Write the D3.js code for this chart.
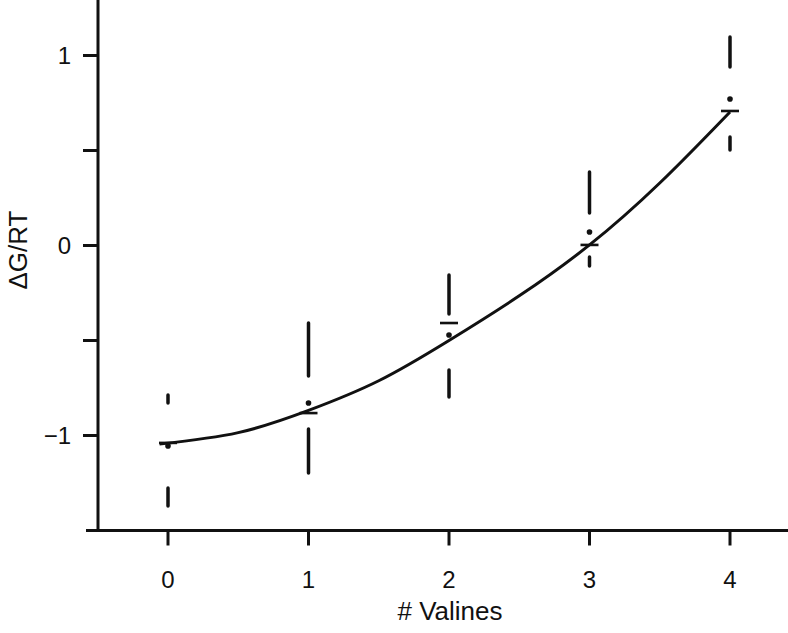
<!DOCTYPE html>
<html>
<head>
<meta charset="utf-8">
<script src="https://cdn.jsdelivr.net/npm/d3@7"></script>
<style>
  body { margin: 0; background: #fff; }
  svg text { font-family: "Liberation Sans", Arial, Helvetica, sans-serif; fill: #111; }
</style>
</head>
<body>
<svg id="chart" width="788" height="633"></svg>
<script>
// values
var valines   = [0, 1, 2, 3, 4];
var upperHi   = [-0.787, -0.408, -0.155, 0.387, 1.097];
var upperLo   = [-0.829, -0.687, -0.361, 0.171, 0.939];
var lowerHi   = [-1.276, -0.966, -0.655, -0.061, 0.571];
var lowerLo   = [-1.371, -1.197, -0.797, -0.108, 0.503];
var medians   = [-1.055, -0.829, -0.471, 0.071, 0.771];
var fitted    = [-1.039, -0.882, -0.408, 0.003, 0.708];
var curveX    = [-0.06, 0.5, 1, 1.5, 2, 2.5, 3, 3.5, 4];
var curveY    = [-1.045, -0.985, -0.868, -0.712, -0.500, -0.265, 0.003, 0.329, 0.703];
var xTicks    = [0, 1, 2, 3, 4];
var yTicks    = [-1, -0.5, 0, 0.5, 1];
var yLabels   = {"-1": "\u22121", "0": "0", "1": "1"};

var svg = d3.select("#chart");
var ink = "#111";

var x = d3.scaleLinear().domain([0, 4]).range([168, 730]);
var y = d3.scaleLinear().domain([-1.5, 1]).range([530.5, 55.5]);

// axes
var xAxis = svg.append("g").attr("transform", "translate(0,530.5)");
xAxis.append("line").attr("x1", 86).attr("x2", 788).attr("stroke", ink).attr("stroke-width", 3);
xAxis.selectAll(".xt").data(xTicks).enter().append("line")
    .attr("class", "xt")
    .attr("x1", function(d) { return x(d); }).attr("x2", function(d) { return x(d); })
    .attr("y1", 0).attr("y2", 15)
    .attr("stroke", ink).attr("stroke-width", 3);
xAxis.selectAll(".xl").data(xTicks).enter().append("text")
    .attr("class", "xl")
    .attr("x", function(d) { return x(d); })
    .attr("y", 57)
    .attr("text-anchor", "middle")
    .style("font-size", "24px")
    .text(function(d) { return d; });

var yAxis = svg.append("g").attr("transform", "translate(98,0)");
yAxis.append("line").attr("y1", 0).attr("y2", 532).attr("stroke", ink).attr("stroke-width", 3);
yAxis.selectAll(".yt").data(yTicks).enter().append("line")
    .attr("class", "yt")
    .attr("y1", function(d) { return y(d); }).attr("y2", function(d) { return y(d); })
    .attr("x1", -15).attr("x2", 0)
    .attr("stroke", ink).attr("stroke-width", 3);
yAxis.selectAll(".yl").data(yTicks.filter(function(d) { return yLabels[d] != null; })).enter().append("text")
    .attr("class", "yl")
    .attr("x", -27)
    .attr("y", function(d) { return y(d); })
    .attr("dy", "0.36em")
    .attr("text-anchor", "end")
    .style("font-size", "24px")
    .text(function(d) { return yLabels[d]; });

svg.append("text")
    .attr("x", 450).attr("y", 620)
    .attr("text-anchor", "middle")
    .style("font-size", "26px")
    .text("# Valines");

svg.append("text")
    .attr("transform", "translate(27,250) rotate(-90)")
    .attr("text-anchor", "middle")
    .style("font-size", "26px")
    .text("\u0394G/RT");

// fitted curve
var pts = curveX.map(function(d, i) { return [d, curveY[i]]; });
svg.append("path")
    .datum(pts)
    .attr("fill", "none")
    .attr("stroke", ink)
    .attr("stroke-width", 3)
    .attr("d", d3.line().x(function(d) { return x(d[0]); }).y(function(d) { return y(d[1]); }).curve(d3.curveNatural));

// quartile marks
var g = svg.selectAll(".mark").data(valines).enter().append("g").attr("class", "mark");
g.append("line")
    .attr("x1", function(d) { return x(d); }).attr("x2", function(d) { return x(d); })
    .attr("y1", function(d, i) { return y(upperHi[i]); }).attr("y2", function(d, i) { return y(upperLo[i]); })
    .attr("stroke", ink).attr("stroke-width", 3.5).attr("stroke-linecap", "round");
g.append("line")
    .attr("x1", function(d) { return x(d); }).attr("x2", function(d) { return x(d); })
    .attr("y1", function(d, i) { return y(lowerHi[i]); }).attr("y2", function(d, i) { return y(lowerLo[i]); })
    .attr("stroke", ink).attr("stroke-width", 3.5).attr("stroke-linecap", "round");
g.append("circle")
    .attr("cx", function(d) { return x(d); })
    .attr("cy", function(d, i) { return y(medians[i]); })
    .attr("r", 2.8)
    .attr("fill", ink);
g.append("line")
    .attr("x1", function(d) { return x(d) - 9; }).attr("x2", function(d) { return x(d) + 9; })
    .attr("y1", function(d, i) { return y(fitted[i]); }).attr("y2", function(d, i) { return y(fitted[i]); })
    .attr("stroke", ink).attr("stroke-width", 2.6);
</script>
</body>
</html>
